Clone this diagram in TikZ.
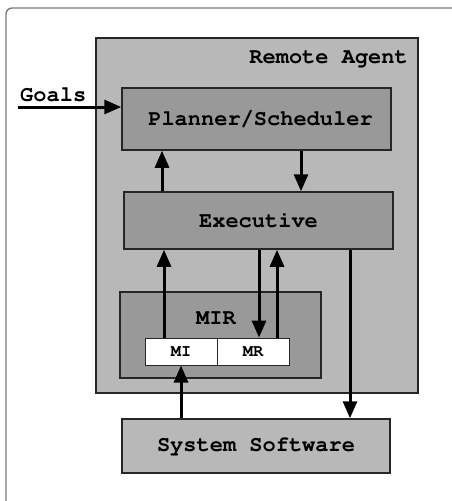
\documentclass[tikz,border=0pt]{standalone}
\usepackage[T1]{fontenc}
\usepackage{courier}
\usetikzlibrary{arrows.meta}
\definecolor{outerfill}{HTML}{B8B8B8}
\definecolor{innerfill}{HTML}{999999}
\definecolor{framegray}{HTML}{7A7A7A}
\begin{document}
\begin{tikzpicture}[x=1pt,y=-1pt,
  lbl/.style={font=\fontfamily{pcr}\fontseries{b}\fontsize{22}{24}\selectfont, inner sep=0pt},
  small/.style={font=\fontfamily{pcr}\fontseries{b}\fontsize{17}{18}\selectfont, inner sep=0pt},
  blk/.style={draw=black!85, line width=1.5pt, inner sep=0pt, minimum width=#1},
  arr/.style={line width=3pt, -{Triangle[length=17pt,width=14pt]}}]
\fill[white] (0,0) rectangle (452,501);
\useasboundingbox (0,0) rectangle (452,501);
% frame
\draw[framegray, line width=1.4pt, rounded corners=6pt] (6,502) -- (6,8) -- (453,8);
% boxes
\node[blk=322pt, fill=outerfill, minimum height=355pt] (ra) at (257,215.5) {};
\node[lbl, anchor=east] (ralabel) at (408,59) {Remote Agent};
\node[blk=269pt, fill=innerfill, minimum height=62pt, lbl] (plan) at (256.5,119) {\hspace*{8pt}Planner/Scheduler};
\node[blk=269pt, fill=innerfill, minimum height=57pt, lbl] (exec) at (258.5,220.5) {Executive};
\node[blk=201pt, fill=innerfill, minimum height=86pt] (mir) at (220.5,335) {};
\node[lbl] (mirlabel) at (216,318) {MIR};
\node[blk=72pt, fill=white, minimum height=27pt, line width=1pt, small] (mi) at (181,351.5) {MI};
\node[blk=72pt, fill=white, minimum height=27pt, line width=1pt, small] (mr) at (253,351.5) {MR};
\node[blk=268pt, fill=outerfill, minimum height=54pt, lbl] (sys) at (256,446) {System Software};
% goals
\node[lbl, anchor=west] (goals) at (20,95) {Goals};
\coordinate (gstart) at (18,107);
\draw[arr] (gstart) -- (gstart -| plan.west);
% x positions
\coordinate (xa) at (162,0);
\coordinate (xb) at (301,0);
\coordinate (xc) at (164,0);
\coordinate (xd) at (259,0);
\coordinate (xe) at (277,0);
\coordinate (xf) at (181,0);
\coordinate (xg) at (350,0);
\draw[arr] (exec.north -| xa) -- (plan.south -| xa);
\draw[arr] (plan.south -| xb) -- (exec.north -| xb);
\draw[arr] (mi.north -| xc) -- (exec.south -| xc);
\draw[arr] (exec.south -| xd) -- (mr.north -| xd);
\draw[arr] (mr.north -| xe) -- (exec.south -| xe);
\draw[arr] (sys.north -| xf) -- (mi.south -| xf);
\draw[arr] (exec.south -| xg) -- (sys.north -| xg);
\end{tikzpicture}
\end{document}
